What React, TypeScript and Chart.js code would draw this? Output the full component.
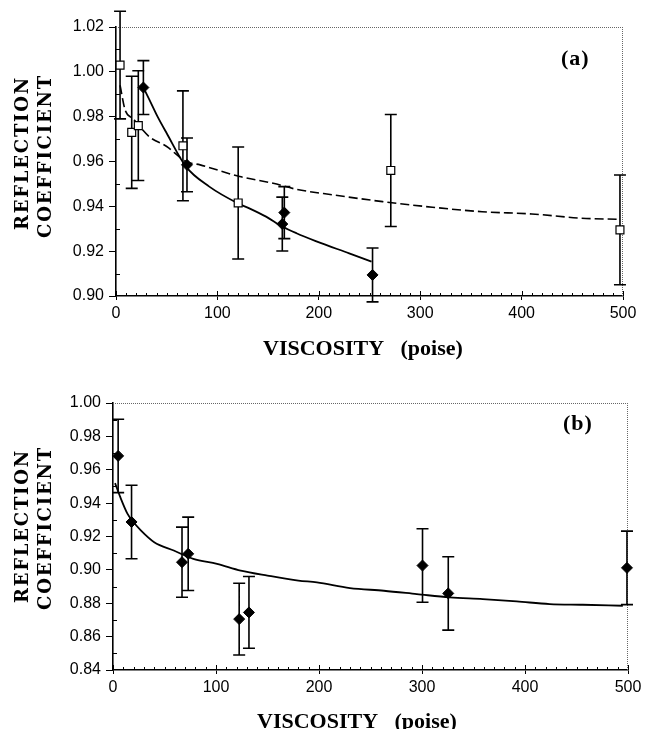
import React, { useEffect, useRef } from 'react';
import { Chart, registerables } from 'chart.js';

Chart.register(...registerables);

// ---------- Panel (a) data ----------
const aSquareX = [4, 15.5, 22, 66, 120.5, 271, 497];
const aSquareY = [1.003, 0.973, 0.976, 0.967, 0.9415, 0.956, 0.9295];
const aSquareErr = [0.024, 0.025, 0.0245, 0.0245, 0.025, 0.025, 0.0245];

const aDiamondX = [27, 70, 166, 164, 253];
const aDiamondY = [0.993, 0.9585, 0.9372, 0.9321, 0.9094];
const aDiamondErr = [0.012, 0.012, 0.0116, 0.012, 0.012];

const aSolidFitX = [27, 33, 41, 50, 69, 92, 120, 132, 148, 164, 178, 197, 230, 252];
const aSolidFitY = [0.993, 0.9875, 0.98, 0.9726, 0.9577, 0.9488, 0.9414, 0.939, 0.9354, 0.931, 0.928, 0.9245, 0.919, 0.9153];

const aDashedFitX = [4, 9, 17, 33, 50, 69, 83, 122, 155, 178, 214, 263, 312, 361, 410, 459, 497];
const aDashedFitY = [0.994, 0.983, 0.979, 0.971, 0.9667, 0.96, 0.9585, 0.9533, 0.9503, 0.9476, 0.9451, 0.9421, 0.9396, 0.9376, 0.9366, 0.9347, 0.9342];

// ---------- Panel (b) data ----------
const bPointX = [5, 18, 67, 73, 122.5, 132, 300.5, 325.5, 499];
const bPointY = [0.9683, 0.9287, 0.9046, 0.9096, 0.8705, 0.8745, 0.9026, 0.8859, 0.9012];
const bPointErr = [0.022, 0.022, 0.021, 0.022, 0.0215, 0.0215, 0.022, 0.022, 0.022];

const bFitX = [2, 7, 14, 19, 27, 40, 59, 78, 101, 124, 150, 180, 198, 230, 263, 295, 327, 359, 392, 424, 456, 495];
const bFitY = [0.952, 0.9437, 0.9337, 0.9293, 0.9237, 0.9166, 0.9116, 0.9066, 0.9036, 0.8996, 0.8966, 0.8936, 0.8925, 0.8891, 0.8875, 0.8855, 0.8835, 0.8825, 0.8811, 0.8795, 0.8791, 0.8785];

// ---------- Axes ----------
const xMin = 0;
const xMax = 500;
const xStep = 100;
const xMinorStep = 10;
const aYMin = 0.9;
const aYMax = 1.02;
const bYMin = 0.84;
const bYMax = 1.0;
const yStep = 0.02;
const yMinorStep = 0.01;

const xTitle = 'VISCOSITY   (poise)';
const yTitleLines = ['REFLECTION', 'COEFFICIENT'];
const aPanelLabel = '(a)';
const bPanelLabel = '(b)';

const pts = (xs: number[], ys: number[]) => xs.map((x, i) => ({ x, y: ys[i] }));

const decoPlugin = {
  id: 'deco',
  beforeDatasetsDraw(chart: any, _args: any, opts: any) {
    const { ctx, chartArea: ca, scales } = chart;
    const x = scales.x;
    const y = scales.y;
    ctx.save();
    // dotted top and right frame
    ctx.strokeStyle = '#666';
    ctx.lineWidth = 1;
    ctx.setLineDash([1, 1]);
    ctx.beginPath();
    ctx.moveTo(ca.left, Math.round(ca.top) + 0.5);
    ctx.lineTo(ca.right, Math.round(ca.top) + 0.5);
    ctx.moveTo(Math.round(ca.right) - 0.5, ca.top);
    ctx.lineTo(Math.round(ca.right) - 0.5, ca.bottom);
    ctx.stroke();
    ctx.setLineDash([]);
    // minor ticks (inside)
    ctx.strokeStyle = '#000';
    ctx.lineWidth = 1;
    ctx.beginPath();
    const nx = Math.round((x.max - x.min) / opts.xMinor);
    const xRatio = Math.round(opts.xMajor / opts.xMinor);
    for (let i = 0; i <= nx; i++) {
      const px = Math.round(x.getPixelForValue(x.min + i * opts.xMinor)) + 0.5;
      const len = i % xRatio === 0 ? 5 : 3;
      ctx.moveTo(px, ca.bottom);
      ctx.lineTo(px, ca.bottom - len);
    }
    const ny = Math.round((y.max - y.min) / opts.yMinor);
    const yRatio = Math.round(opts.yMajor / opts.yMinor);
    for (let i = 0; i <= ny; i++) {
      if (i % yRatio === 0) continue;
      const py = Math.round(y.getPixelForValue(y.min + i * opts.yMinor)) + 0.5;
      ctx.moveTo(ca.left, py);
      ctx.lineTo(ca.left + 4, py);
    }
    ctx.stroke();
    // error bars
    ctx.lineWidth = 1.6;
    ctx.beginPath();
    for (const s of opts.errorBars) {
      s.xs.forEach((xv: number, i: number) => {
        const px = x.getPixelForValue(xv);
        const pHi = y.getPixelForValue(s.ys[i] + s.errs[i]);
        const pLo = y.getPixelForValue(s.ys[i] - s.errs[i]);
        ctx.moveTo(px, pHi);
        ctx.lineTo(px, pLo);
        ctx.moveTo(px - 6, pHi);
        ctx.lineTo(px + 6, pHi);
        ctx.moveTo(px - 6, pLo);
        ctx.lineTo(px + 6, pLo);
      });
    }
    ctx.stroke();
    ctx.restore();
  },
  afterDraw(chart: any, _args: any, opts: any) {
    const { ctx } = chart;
    for (const t of opts.texts) {
      ctx.save();
      ctx.fillStyle = '#000';
      ctx.font = t.font;
      (ctx as any).letterSpacing = (t.spacing || 0) + 'px';
      ctx.textAlign = t.align || 'left';
      ctx.textBaseline = 'alphabetic';
      ctx.translate(t.x, t.y);
      if (t.rotate) ctx.rotate(-Math.PI / 2);
      ctx.fillText(t.text, 0, 0);
      ctx.restore();
    }
  },
};

const tickFont = { family: '"Liberation Sans", Arial, sans-serif', size: 16 };
const yTitleFont = 'bold 18px "DejaVu Serif", serif';
const xTitleFont = 'bold 22px "Liberation Serif", "Times New Roman", serif';
const panelFont = 'bold 22px "Liberation Serif", "Times New Roman", serif';

function makeConfig(spec: any) {
  return {
    type: 'scatter',
    data: { datasets: spec.datasets },
    plugins: [decoPlugin],
    options: {
      responsive: false,
      devicePixelRatio: 1,
      animation: false,
      events: [],
      layout: { padding: { top: spec.padTop, right: spec.padRight, left: 0, bottom: 0 } },
      plugins: {
        legend: { display: false },
        tooltip: { enabled: false },
        deco: {
          xMinor: xMinorStep,
          xMajor: xStep,
          yMinor: yMinorStep,
          yMajor: yStep,
          errorBars: spec.errorBars,
          texts: spec.texts,
        },
      },
      scales: {
        x: {
          type: 'linear',
          min: xMin,
          max: xMax,
          afterFit: (s: any) => { s.height = spec.xHeight; },
          ticks: { stepSize: xStep, font: tickFont, color: '#000', padding: 4, maxRotation: 0 },
          grid: { display: true, drawOnChartArea: false, drawTicks: true, tickLength: 4, color: '#000', lineWidth: 1 },
          border: { display: true, color: '#000', width: 1.6 },
          title: { display: false },
        },
        y: {
          type: 'linear',
          min: spec.yMin,
          max: spec.yMax,
          afterFit: (s: any) => { s.width = spec.yWidth; },
          ticks: {
            stepSize: yStep,
            font: tickFont,
            color: '#000',
            padding: 5,
            callback: (v: any) => Number(v).toFixed(2),
          },
          grid: { display: true, drawOnChartArea: false, drawTicks: true, tickLength: 7, color: '#000', lineWidth: 1 },
          border: { display: true, color: '#000', width: 1.6 },
          title: { display: false },
        },
      },
    },
  };
}

const specA = {
  padTop: 27,
  padRight: 30,
  yWidth: 116,
  xHeight: 76,
  yMin: aYMin,
  yMax: aYMax,
  datasets: [
    {
      label: 'squares',
      data: pts(aSquareX, aSquareY),
      pointStyle: 'rect',
      pointRadius: 5.6,
      backgroundColor: '#fff',
      borderColor: '#000',
      borderWidth: 1.2,
      showLine: false,
      clip: false,
    },
    {
      label: 'diamonds',
      data: pts(aDiamondX, aDiamondY),
      pointStyle: 'rectRot',
      pointRadius: 5.5,
      backgroundColor: '#000',
      borderColor: '#000',
      borderWidth: 1,
      showLine: false,
      clip: false,
    },
    {
      label: 'fit solid',
      data: pts(aSolidFitX, aSolidFitY),
      showLine: true,
      pointRadius: 0,
      borderColor: '#000',
      borderWidth: 1.8,
      cubicInterpolationMode: 'monotone',
      fill: false,
    },
    {
      label: 'fit dashed',
      data: pts(aDashedFitX, aDashedFitY),
      showLine: true,
      pointRadius: 0,
      borderColor: '#000',
      borderWidth: 1.6,
      borderDash: [9, 4],
      cubicInterpolationMode: 'monotone',
      fill: false,
    },
  ],
  errorBars: [
    { xs: aSquareX, ys: aSquareY, errs: aSquareErr },
    { xs: aDiamondX, ys: aDiamondY, errs: aDiamondErr },
  ],
  texts: [
    { text: yTitleLines[0], x: 28, y: 153, font: yTitleFont, spacing: 1.8, rotate: true, align: 'center' },
    { text: yTitleLines[1], x: 51, y: 156, font: yTitleFont, spacing: 1.8, rotate: true, align: 'center' },
    { text: xTitle, x: 263, y: 355, font: xTitleFont, align: 'left' },
    { text: aPanelLabel, x: 561, y: 65, font: panelFont, spacing: 1, align: 'left' },
  ],
};

const specB = {
  padTop: 31,
  padRight: 25,
  yWidth: 113,
  xHeight: 74,
  yMin: bYMin,
  yMax: bYMax,
  datasets: [
    {
      label: 'diamonds',
      data: pts(bPointX, bPointY),
      pointStyle: 'rectRot',
      pointRadius: 5.5,
      backgroundColor: '#000',
      borderColor: '#000',
      borderWidth: 1,
      showLine: false,
      clip: false,
    },
    {
      label: 'fit',
      data: pts(bFitX, bFitY),
      showLine: true,
      pointRadius: 0,
      borderColor: '#000',
      borderWidth: 1.8,
      cubicInterpolationMode: 'monotone',
      fill: false,
    },
  ],
  errorBars: [{ xs: bPointX, ys: bPointY, errs: bPointErr }],
  texts: [
    { text: yTitleLines[0], x: 28, y: 154, font: yTitleFont, spacing: 1.8, rotate: true, align: 'center' },
    { text: yTitleLines[1], x: 51, y: 156, font: yTitleFont, spacing: 1.8, rotate: true, align: 'center' },
    { text: xTitle, x: 257, y: 356, font: xTitleFont, align: 'left' },
    { text: bPanelLabel, x: 563, y: 58, font: panelFont, spacing: 1, align: 'left' },
  ],
};

export default function App() {
  const aRef = useRef<HTMLCanvasElement>(null);
  const bRef = useRef<HTMLCanvasElement>(null);

  useEffect(() => {
    const ca = new Chart(aRef.current as HTMLCanvasElement, makeConfig(specA) as any);
    const cb = new Chart(bRef.current as HTMLCanvasElement, makeConfig(specB) as any);
    return () => {
      ca.destroy();
      cb.destroy();
    };
  }, []);

  return (
    <div style={{ position: 'absolute', left: 0, top: 0, width: 653, height: 729, overflow: 'hidden', background: '#fff' }}>
      <canvas ref={aRef} width={653} height={372} style={{ position: 'absolute', left: 0, top: 0, width: 653, height: 372 }} />
      <canvas ref={bRef} width={653} height={372} style={{ position: 'absolute', left: 0, top: 372, width: 653, height: 372 }} />
    </div>
  );
}
